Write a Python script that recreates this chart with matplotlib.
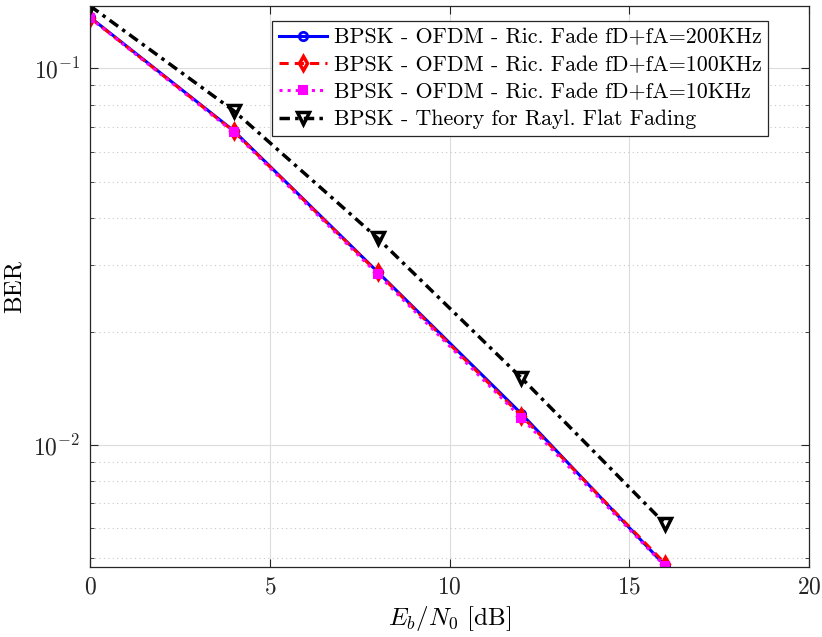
import matplotlib
matplotlib.use("Agg")
import matplotlib.pyplot as plt
from matplotlib.ticker import LogLocator, NullFormatter

plt.rcParams['font.family'] = 'serif'
plt.rcParams['font.serif'] = ['cmr10', 'DejaVu Serif']
plt.rcParams['mathtext.fontset'] = 'cm'
plt.rcParams['axes.unicode_minus'] = False
plt.rcParams['axes.formatter.use_mathtext'] = True

ebn0 = [0, 4, 8, 12, 16]
ber_200k = [0.1366, 0.0682, 0.0288, 0.0121, 0.00478]
ber_100k = [0.1362, 0.0680, 0.0287, 0.01195, 0.00484]
ber_10k = [0.1360, 0.0676, 0.0284, 0.0118, 0.00476]
ber_theory = [0.1464, 0.0771, 0.0354, 0.01506, 0.00617]

labels = ['BPSK - OFDM - Ric. Fade fD+fA=200KHz',
          'BPSK - OFDM - Ric. Fade fD+fA=100KHz',
          'BPSK - OFDM - Ric. Fade fD+fA=10KHz',
          'BPSK - Theory for Rayl. Flat Fading']

fig = plt.figure(figsize=(8.22, 6.37), dpi=100)
ax = fig.add_axes([90/822, 1-566.7/637, (809-90)/822, (566.7-6)/637])

ax.semilogy(ebn0, ber_200k, '-', color='blue', lw=2.2, marker='o', ms=6,
            mfc='none', mec='blue', mew=2, label=labels[0])
ax.semilogy(ebn0, ber_100k, ls=(0, (3, 2)), color='red', lw=2.2, marker='d', ms=7,
            mfc='none', mec='red', mew=2.5, label=labels[1])
ax.semilogy(ebn0, ber_10k, ':', color='magenta', lw=2.2, marker='s', ms=6,
            mfc='magenta', mec='magenta', mew=1.5, label=labels[2])
ax.semilogy(ebn0, ber_theory, ls=(0, (3, 1.5, 1, 1.5)), color='black', lw=2.5, marker='v', ms=8,
            mfc='none', mec='black', mew=2.5, label=labels[3])

ax.set_xlim(0, 20)
ax.set_ylim(0.00475, 0.1463)
ax.set_xticks([0, 5, 10, 15, 20])
ax.yaxis.set_major_locator(LogLocator(base=10, numticks=10))
ax.yaxis.set_minor_locator(LogLocator(base=10, subs=range(2, 10), numticks=20))
ax.yaxis.set_minor_formatter(NullFormatter())

ax.grid(True, which='major', color='#dcdcdc', lw=0.8, ls='-')
ax.grid(True, which='minor', axis='y', color='#c8c8c8', lw=0.8, ls=(0, (1, 3)))
ax.set_axisbelow(True)

ax.tick_params(which='both', direction='in', top=True, right=True, labelsize=17, colors='#262626')
ax.tick_params(which='major', length=6, pad=7)
ax.tick_params(which='minor', length=3)
for s in ax.spines.values():
    s.set_color('#262626')
    s.set_linewidth(0.9)

ax.set_xlabel(r'$E_b/N_0$ [dB]', fontsize=18, labelpad=4)
ax.set_ylabel('BER', fontsize=18)
ax.yaxis.set_label_coords(-0.09, 0.5)

leg = ax.legend(loc='upper right', bbox_to_anchor=(0.943, 0.973), fontsize=15.8,
                frameon=True, fancybox=False, edgecolor='#262626', framealpha=1,
                handlelength=2.2, borderpad=0.3, labelspacing=0.36, handletextpad=0.3,
                borderaxespad=0)
leg.get_frame().set_linewidth(0.9)

fig.savefig('out.png', dpi=100)
